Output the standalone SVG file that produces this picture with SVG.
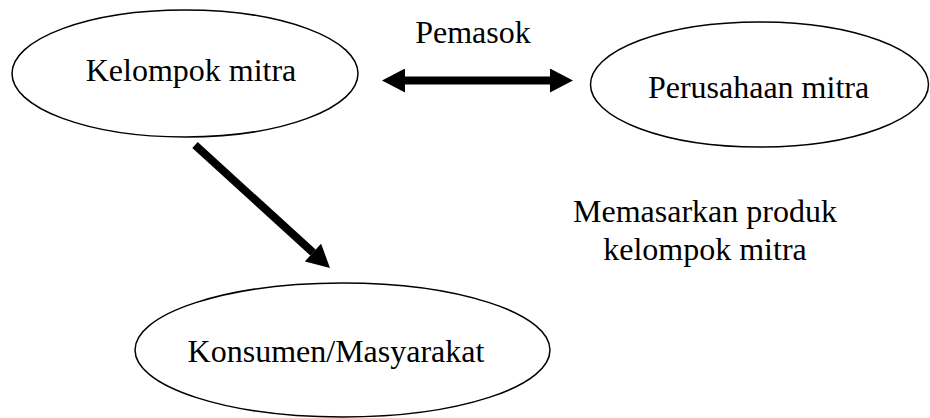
<svg xmlns="http://www.w3.org/2000/svg" width="930" height="418" viewBox="0 0 930 418">
<style>
.node ellipse{fill:#fff;stroke:#000;stroke-width:1.5}
text{font-family:"Liberation Serif","Times New Roman",serif;font-size:32px;fill:#000}
.conn line{stroke:#000;stroke-width:8;fill:none}
</style>
<defs>
<marker id="ah" markerUnits="userSpaceOnUse" markerWidth="24" markerHeight="24" viewBox="0 0 23 24" refX="0" refY="12" orient="auto-start-reverse">
<path d="M0,0 L23,12 L0,24 z" fill="#000"/>
</marker>
</defs>
<rect width="930" height="418" fill="#fff"/>
<g id="kelompok-mitra" class="node">
<ellipse cx="185" cy="73.5" rx="173" ry="63.5"/>
<text x="191" y="81" text-anchor="middle">Kelompok mitra</text>
</g>
<g id="perusahaan-mitra" class="node">
<ellipse cx="759.5" cy="84.5" rx="169" ry="62.5"/>
<text x="758.5" y="98" text-anchor="middle">Perusahaan mitra</text>
</g>
<g id="konsumen" class="node">
<ellipse cx="342.5" cy="350" rx="207.5" ry="67"/>
<text x="336" y="362" text-anchor="middle">Konsumen/Masyarakat</text>
</g>
<g id="connectors" class="conn">
<line x1="405" y1="80.5" x2="550" y2="80.5" marker-start="url(#ah)" marker-end="url(#ah)"/>
<line x1="195" y1="145" x2="313" y2="252.5" marker-end="url(#ah)"/>
</g>
<g id="labels">
<text x="473" y="43" text-anchor="middle">Pemasok</text>
<text x="705" y="222" text-anchor="middle">Memasarkan produk</text>
<text x="705" y="260" text-anchor="middle">kelompok mitra</text>
</g>
</svg>
